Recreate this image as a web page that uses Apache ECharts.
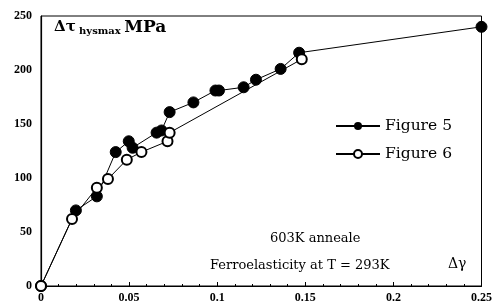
<!DOCTYPE html>
<html>
<head>
<meta charset="utf-8">
<script src="https://cdn.jsdelivr.net/npm/echarts@6/dist/echarts.min.js"></script>
<style>
  html, body { margin: 0; padding: 0; background: #fff; }
  #main { width: 495px; height: 307px; }
</style>
</head>
<body>
<div id="main"></div>
<script>
// values
var fig5X = [0, 0.0198, 0.0317, 0.0424, 0.0498, 0.052, 0.0656, 0.0684, 0.073, 0.0865, 0.099, 0.101, 0.115, 0.122, 0.136, 0.1465, 0.25];
var fig5Y = [0, 70, 83, 124, 134, 128, 142, 144, 161, 170, 181, 181, 184, 191, 201, 216, 240];
var fig6X = [0, 0.0176, 0.0317, 0.038, 0.0487, 0.057, 0.0718, 0.073, 0.148];
var fig6Y = [0, 62, 91, 99, 117, 124, 134, 142, 210];

function pairs(xs, ys) {
  return xs.map(function (x, i) { return [x, ys[i]]; });
}

var serif = '"DejaVu Serif", "Liberation Serif", serif';
var chart = echarts.init(document.getElementById('main'));

chart.setOption({
  animation: false,
  grid: {
    left: 41, right: 12, top: 16, bottom: 21,
    show: true, borderColor: '#000', borderWidth: 1
  },
  legend: {
    orient: 'vertical',
    left: 330, top: 113,
    itemWidth: 44, itemHeight: 10, itemGap: 12,
    textStyle: { fontFamily: serif, fontSize: 15.5, color: '#000' },
    data: ['Figure 5', 'Figure 6']
  },
  xAxis: {
    type: 'value', min: 0, max: 0.25, interval: 0.05,
    axisLine: { lineStyle: { color: '#000', width: 1.2 } },
    axisTick: { inside: true, length: 4, lineStyle: { color: '#000' } },
    minorTick: { show: true, splitNumber: 5, length: 2, lineStyle: { color: '#000' } },
    splitLine: { show: false },
    axisLabel: { fontFamily: '"Liberation Serif", serif', fontWeight: 'bold', fontSize: 12, color: '#000', margin: 6 }
  },
  yAxis: {
    type: 'value', min: 0, max: 250, interval: 50,
    axisLine: { show: true, lineStyle: { color: '#000', width: 1.2 } },
    axisTick: { show: false },
    splitLine: { show: false },
    axisLabel: { fontFamily: '"Liberation Serif", serif', fontWeight: 'bold', fontSize: 12, color: '#000', margin: 9 }
  },
  graphic: [
    {
      type: 'text', left: 54, top: 19,
      style: {
        text: '{a|Δτ} {s|hysmax} {m|MPa}',
        rich: {
          a: { fontFamily: serif, fontWeight: 'bold', fontSize: 15, fill: '#000' },
          s: { fontFamily: serif, fontWeight: 'bold', fontSize: 10, fill: '#000', padding: [8, 0, 0, 0] },
          m: { fontFamily: serif, fontWeight: 'bold', fontSize: 17, fill: '#000' }
        }
      }
    },
    {
      type: 'text', left: 270, top: 232,
      style: { text: '603K anneale', font: '13px ' + serif, fill: '#000' }
    },
    {
      type: 'text', left: 210, top: 259,
      style: { text: 'Ferroelasticity at T = 293K', font: '13px ' + serif, fill: '#000' }
    },
    {
      type: 'text', left: 448, top: 257,
      style: { text: 'Δγ', font: '14px ' + serif, fill: '#000' }
    }
  ],
  series: [
    {
      name: 'Figure 5', type: 'line',
      data: pairs(fig5X, fig5Y),
      symbol: 'circle', symbolSize: 11,
      itemStyle: { color: '#000', borderColor: '#000' },
      lineStyle: { color: '#000', width: 1 },
      z: 2
    },
    {
      name: 'Figure 6', type: 'line',
      data: pairs(fig6X, fig6Y),
      symbol: 'circle', symbolSize: 10,
      itemStyle: { color: '#fff', borderColor: '#000', borderWidth: 2 },
      lineStyle: { color: '#000', width: 1 },
      z: 3
    }
  ]
});
</script>
</body>
</html>
